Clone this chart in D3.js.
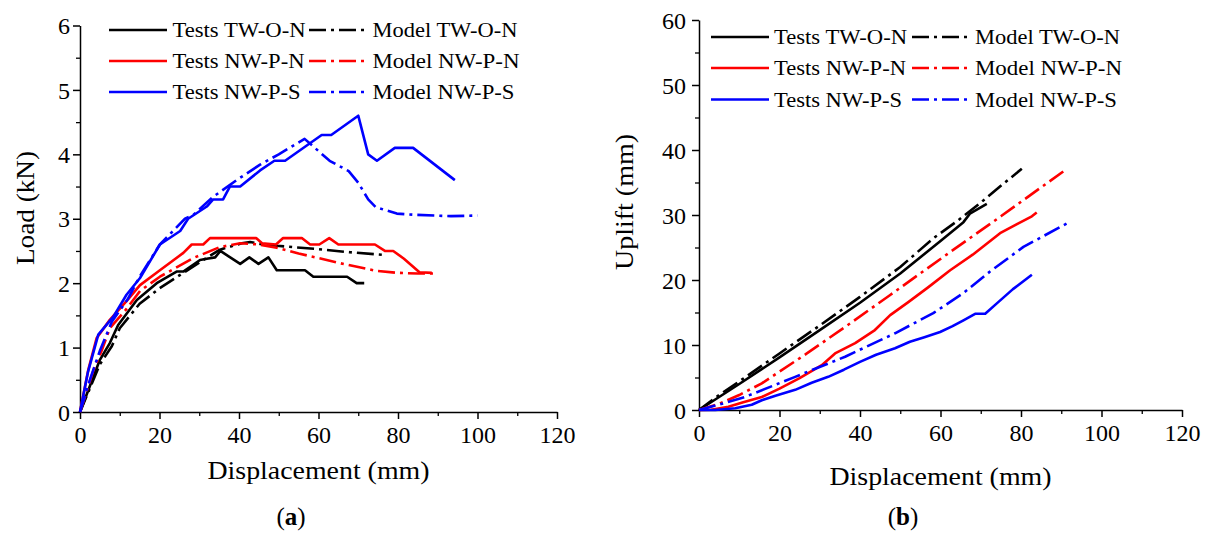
<!DOCTYPE html>
<html><head><meta charset="utf-8">
<script src="https://cdn.jsdelivr.net/npm/d3@7"></script>
<style>
body{margin:0;background:#fff}
svg{display:block}
text{font-family:"Liberation Serif","Times New Roman",serif;fill:#000}
</style>
</head><body>
<svg id="c" width="1209" height="534"></svg>
<script>
// ---------- data ----------
const seriesNames  = ["Tests TW-O-N","Model TW-O-N","Tests NW-P-N","Model NW-P-N","Tests NW-P-S","Model NW-P-S"];
const seriesColors = ["#000000","#000000","#ff0000","#ff0000","#0000ff","#0000ff"];
const seriesDashed = [false,true,false,true,false,true];
const dispTicks    = [0,20,40,60,80,100,120];
const loadTicks    = [0,1,2,3,4,5,6];
const upliftTicks  = [0,10,20,30,40,50,60];

// (a) Load vs displacement
const loadTestsTWON = [[0,0],[5,0.81],[7.5,1.07],[9.6,1.35],[14.3,1.74],[19.3,2.0],[24.3,2.18],[26,2.18],[30.2,2.36],[31.9,2.38],[34,2.4],[35.3,2.5],[40.3,2.3],[42.6,2.4],[44.9,2.3],[47.4,2.4],[49.5,2.2],[56.6,2.2],[58.7,2.1],[67.2,2.1],[69.6,2.0],[71.5,2.0]];
const loadModelTWON = [[0,0],[5,0.74],[8,1.02],[10,1.3],[15,1.68],[20,1.92],[25,2.12],[30,2.32],[35.2,2.52],[40.7,2.62],[42.8,2.64],[45.3,2.61],[49.5,2.58],[59.5,2.53],[67.9,2.48],[76.1,2.44]];
const loadTestsNWPN = [[0,0],[2.1,0.66],[4.2,1.15],[7.5,1.43],[11.7,1.72],[15.1,1.97],[20.1,2.2],[26,2.47],[28.1,2.6],[31,2.6],[32.7,2.7],[44.3,2.7],[45.8,2.62],[49.3,2.6],[51.1,2.7],[55.8,2.7],[57.9,2.6],[60.2,2.6],[62.7,2.7],[65,2.6],[74.2,2.6],[76.7,2.5],[78.8,2.5],[81.5,2.38],[85.4,2.17],[88.5,2.16]];
const loadModelNWPN = [[0,0],[3.4,0.65],[5.5,0.96],[7.5,1.3],[11.7,1.6],[15.1,1.88],[20.1,2.1],[28.5,2.39],[35.2,2.56],[40.3,2.62],[45,2.6],[49.5,2.55],[55,2.46],[60,2.39],[65.4,2.31],[70,2.25],[74.6,2.19],[80,2.16],[85,2.15],[89,2.15]];
const loadTestsNWPS = [[0,0],[2,0.62],[4.6,1.2],[8.4,1.48],[11.7,1.82],[15.1,2.08],[20.1,2.6],[25.2,2.81],[27.2,3.0],[31.9,3.19],[33.5,3.3],[36,3.3],[37.7,3.5],[40.3,3.5],[45.3,3.75],[48.9,3.9],[51.6,3.9],[60.8,4.3],[63.2,4.3],[70,4.6],[72.5,4.0],[74.7,3.9],[79.2,4.1],[83.8,4.1],[94.3,3.6]];
const loadModelNWPS = [[0,0],[2.5,0.5],[5,0.95],[8,1.4],[12,1.75],[15,2.1],[20.1,2.6],[26.4,3.0],[28.5,3.06],[33.5,3.34],[39.4,3.6],[45.3,3.84],[50,4.0],[56.5,4.24],[62.8,3.9],[67.6,3.74],[70,3.56],[72.5,3.3],[74.4,3.18],[79.7,3.08],[84.6,3.06],[93.3,3.04],[100,3.05]];

// (b) Uplift vs displacement
const upTestsTWON = [[0,0],[5,2.0],[10,4.0],[20,8.1],[30,12.3],[40,16.5],[50,21.0],[60,26.0],[65.7,28.9],[67.3,30.2],[71.5,31.7]];
const upModelTWON = [[0,0],[5,2.3],[10,4.4],[20,8.7],[30,13.0],[40,17.4],[50,22.0],[58.2,26.4],[64,29.0],[69.8,31.8],[75,34.5],[80.2,37.1]];
const upTestsNWPN = [[0,0],[3,0.05],[7.3,0.5],[11,1.2],[15.6,2.0],[20,3.3],[25,4.9],[30.5,6.9],[33.8,8.7],[38.8,10.3],[43.7,12.3],[47.5,14.6],[52,16.6],[57,18.9],[62.4,21.5],[68,23.9],[74.8,27.2],[79,28.6],[82.7,29.8],[83.9,30.4]];
const upModelNWPN = [[0,0],[4.8,0.9],[10,2.3],[15.6,4.1],[26.8,8.7],[37.5,13.3],[47.5,17.7],[62.4,24.3],[75,29.8],[90.5,36.7]];
const upTestsNWPS = [[0,0],[4,0],[9,0.26],[13.1,0.8],[15.6,1.5],[19,2.2],[23.9,3.1],[28,4.2],[32.1,5.1],[36,6.2],[40,7.4],[44,8.5],[48.7,9.5],[52.4,10.5],[56,11.2],[59.9,12.0],[63,12.9],[65.7,13.8],[68.6,14.8],[71.1,14.8],[74,16.4],[78,18.6],[82.7,20.8]];
const upModelNWPS = [[0,0],[4.8,0.8],[11.4,2.0],[23.9,5.1],[36.3,8.2],[48.7,11.8],[58.2,14.9],[65.7,18.0],[72.3,21.3],[80.6,25.1],[91.4,28.7]];

const loadSeries   = [loadTestsTWON, loadModelTWON, loadTestsNWPN, loadModelNWPN, loadTestsNWPS, loadModelNWPS];
const upliftSeries = [upTestsTWON, upModelTWON, upTestsNWPN, upModelNWPN, upTestsNWPS, upModelNWPS];

// ---------- drawing ----------
const svg = d3.select("#c");
const DASH = "17,5,3,5";

function stretch(sel, len){ sel.attr("textLength", len).attr("lengthAdjust","spacingAndGlyphs"); }

function panel(cfg){
  const g = svg.append("g");
  const x = d3.scaleLinear().domain([0,120]).range([cfg.x0, cfg.x1]);
  const y = d3.scaleLinear().domain([0,cfg.ymax]).range([cfg.y0, cfg.y1]);

  // minor ticks
  const xMinor = d3.range(10,120,20);
  const yMinor = d3.range(cfg.ymax/12, cfg.ymax, cfg.ymax/6);
  g.append("g").attr("transform",`translate(0,${cfg.y0})`)
    .call(d3.axisBottom(x).tickValues(xMinor).tickSize(4).tickFormat(""))
    .call(a=>a.select(".domain").remove())
    .call(a=>a.selectAll("line").attr("stroke","#000").attr("stroke-width",1.3));
  g.append("g").attr("transform",`translate(${cfg.x0},0)`)
    .call(d3.axisLeft(y).tickValues(yMinor).tickSize(4).tickFormat(""))
    .call(a=>a.select(".domain").remove())
    .call(a=>a.selectAll("line").attr("stroke","#000").attr("stroke-width",1.3));

  // major axes
  const ax = g.append("g").attr("transform",`translate(0,${cfg.y0})`)
    .call(d3.axisBottom(x).tickValues(dispTicks).tickSize(7).tickSizeOuter(0).tickFormat(d3.format("d")));
  ax.selectAll("text").attr("font-size",24).attr("font-family","Liberation Serif").attr("y",31).attr("dy",0);
  const ay = g.append("g").attr("transform",`translate(${cfg.x0},0)`)
    .call(d3.axisLeft(y).tickValues(cfg.ticks).tickSize(7).tickSizeOuter(0).tickFormat(d3.format("d")));
  ay.selectAll("text").attr("font-size",24).attr("font-family","Liberation Serif").attr("x",-cfg.ylabGap).attr("dy","0.34em");
  [ax,ay].forEach(a=>{
    a.select(".domain").attr("stroke","#000").attr("stroke-width",1.5);
    a.selectAll("line").attr("stroke","#000").attr("stroke-width",1.5);
    a.selectAll("text").attr("fill","#000");
  });

  // data lines
  const line = d3.line().x(d=>x(d[0])).y(d=>y(d[1]));
  cfg.series.forEach((s,i)=>{
    g.append("path").datum(s).attr("d",line)
      .attr("fill","none").attr("stroke",seriesColors[i]).attr("stroke-width",2.6)
      .attr("stroke-linejoin","round")
      .attr("stroke-dasharray", seriesDashed[i] ? DASH : null);
  });

  // legend
  const lg = cfg.legend;
  for(let r=0;r<3;r++){
    for(let c=0;c<2;c++){
      const i = r*2+c;
      const yy = lg.rows[r];
      const [l1,l2,tx,tw] = lg.cols[c];
      g.append("line").attr("x1",l1).attr("x2",l2).attr("y1",yy).attr("y2",yy)
        .attr("stroke",seriesColors[i]).attr("stroke-width",2.6)
        .attr("stroke-dasharray", seriesDashed[i] ? DASH : null);
      const t = g.append("text").attr("x",tx).attr("y",yy+7).attr("font-size",20).text(seriesNames[i]);
      stretch(t, tw[r]);
    }
  }

  // axis titles
  const xt = g.append("text").attr("x",(cfg.x0+cfg.x1)/2).attr("y",cfg.xtY).attr("text-anchor","middle")
    .attr("font-size",25).text("Displacement (mm)");
  stretch(xt,222);
  const yt = g.append("text").attr("transform",`translate(${cfg.ytX},${cfg.ytCY}) rotate(-90)`)
    .attr("text-anchor","middle").attr("font-size",25).text(cfg.ytitle);
  stretch(yt,cfg.ytLen);

  // panel label
  const pl = g.append("text").attr("x",cfg.labX).attr("y",525).attr("text-anchor","middle").attr("font-size",25);
  pl.append("tspan").text("(");
  pl.append("tspan").attr("font-weight","bold").text(cfg.lab);
  pl.append("tspan").text(")");
}

panel({
  x0:80, x1:557, y0:412, y1:25.5, ymax:6, ticks:loadTicks, series:loadSeries, ylabGap:10,
  legend:{rows:[30,61,92], cols:[[109,167,172.5,[133,132,128]],[309,369,372.5,[145,147,142]]]},
  xtY:479, ytX:34, ytCY:208, ytitle:"Load (kN)", ytLen:114, labX:291, lab:"a"
});
panel({
  x0:699, x1:1182, y0:410, y1:20, ymax:60, ticks:upliftTicks, series:upliftSeries, ylabGap:13,
  legend:{rows:[37,68,99.5], cols:[[711,769,774,[133,132,128]],[912,971,975,[145,147,142]]]},
  xtY:485, ytX:633, ytCY:202, ytitle:"Uplift (mm)", ytLen:136, labX:903, lab:"b"
});
</script>
</body></html>
